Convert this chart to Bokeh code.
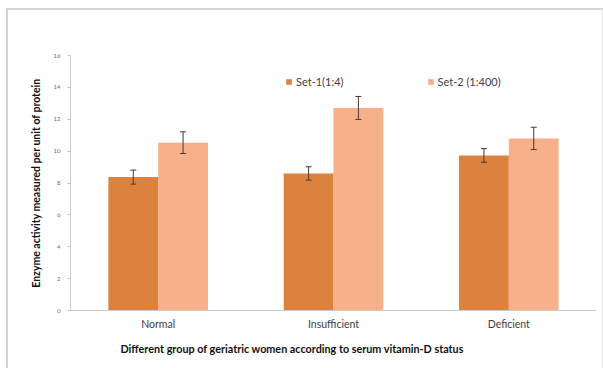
from bokeh.plotting import figure
from bokeh.models import ColumnDataSource, FactorRange, Whisker, TeeHead, Legend, LegendItem, SingleIntervalTicker, Title
from bokeh.transform import dodge
from bokeh.embed import file_html
from bokeh.resources import INLINE

groups = ["Normal", "Insufficient", "Deficient"]
set1 = [8.37, 8.6, 9.73]
set1_err = [0.44, 0.42, 0.43]
set2 = [10.53, 12.71, 10.8]
set2_err = [0.68, 0.72, 0.70]
series_names = ["Set-1(1:4)", "Set-2 (1:400)"]
x_title = "Different group of geriatric women according to serum vitamin-D status"
y_title = "Enzyme activity measured per unit of protein"

c1 = "#db833e"
c2 = "#f6b08a"

src = ColumnDataSource(dict(
    g=groups, s1=set1, s2=set2,
    s1u=[v + e for v, e in zip(set1, set1_err)], s1l=[v - e for v, e in zip(set1, set1_err)],
    s2u=[v + e for v, e in zip(set2, set2_err)], s2l=[v - e for v, e in zip(set2, set2_err)],
))

p = figure(x_range=FactorRange(*groups, range_padding=0), y_range=(0, 16),
           width=598, height=360, output_backend="svg", toolbar_location=None,
           min_border_left=62, min_border_right=10, min_border_top=45, min_border_bottom=60)
p.margin = (8, 0, 0, 6)
p.styles = {"border-top": "2px solid #d4d4d4", "border-left": "2px solid #d4d4d4",
            "border-right": "2px solid #e4e4e4", "box-sizing": "border-box"}
p.outline_line_color = None
p.grid.visible = False

w = 0.284
r1 = p.vbar(x=dodge("g", -w / 2, range=p.x_range), top="s1", width=w, source=src, color=c1, line_color=None)
r2 = p.vbar(x=dodge("g", w / 2, range=p.x_range), top="s2", width=w, source=src, color=c2, line_color=None)

for xoff, up, lo in [(-w / 2, "s1u", "s1l"), (w / 2, "s2u", "s2l")]:
    wk = Whisker(base=dodge("g", xoff, range=p.x_range), upper=up, lower=lo, source=src,
                 line_color="#4a3a30", line_width=1, level="overlay",
                 upper_head=TeeHead(size=6, line_color="#4a3a30", line_width=1),
                 lower_head=TeeHead(size=6, line_color="#4a3a30", line_width=1))
    p.add_layout(wk)

legend = Legend(items=[LegendItem(label=series_names[0], renderers=[r1]),
                       LegendItem(label=series_names[1], renderers=[r2])],
                orientation="horizontal", location=(215, 222),
                border_line_color=None, background_fill_alpha=0,
                glyph_width=7, glyph_height=7, label_standoff=4, spacing=83,
                label_text_font="Lato", label_text_font_size="11px", label_text_color="#404040",
                padding=0, margin=0)
p.add_layout(legend)

p.yaxis.ticker = SingleIntervalTicker(interval=2)
p.yaxis.axis_line_color = "#d0d0d0"
p.yaxis.major_tick_line_color = "#c0c0c0"
p.yaxis.major_tick_out = 3
p.yaxis.major_tick_in = 0
p.yaxis.minor_tick_line_color = None
p.yaxis.major_label_text_font = "Lato"
p.yaxis.major_label_text_font_size = "6px"
p.yaxis.major_label_text_color = "#707070"
p.yaxis.major_label_standoff = 6
p.yaxis.axis_label = y_title
p.yaxis.axis_label_text_font = "Lato"
p.yaxis.axis_label_text_font_style = "bold"
p.yaxis.axis_label_text_font_size = "10.5px"
p.yaxis.axis_label_text_color = "#111111"
p.yaxis.axis_label_standoff = 9

p.xaxis.axis_line_color = "#c8ccd4"
p.xaxis.major_tick_line_color = None
p.xaxis.minor_tick_line_color = None
p.xaxis.major_label_text_font = "Lato"
p.xaxis.major_label_text_font_size = "10.5px"
p.xaxis.major_label_text_color = "#404040"
p.xaxis.major_label_standoff = 1

p.add_layout(Title(text=x_title, align="left", offset=50, standoff=15,
                   text_font="Lato", text_font_style="bold", text_font_size="10.8px",
                   text_color="#111111"), "below")

open("out.html", "w").write(file_html(p, INLINE))
